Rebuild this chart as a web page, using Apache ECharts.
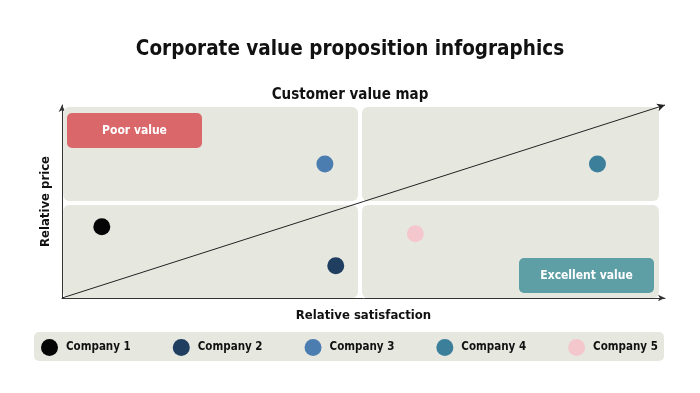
<!DOCTYPE html>
<html>
<head>
<meta charset="utf-8">
<script src="https://cdn.jsdelivr.net/npm/echarts@6/dist/echarts.min.js"></script>
<style>html,body{margin:0;padding:0;background:#fff}#c{width:700px;height:393px}</style>
</head>
<body>
<div id="c"></div>
<script>
const companies = ['Company 1', 'Company 2', 'Company 3', 'Company 4', 'Company 5'];
const satisfaction = [0.66, 4.54, 4.36, 8.88, 5.86];
const price = [3.69, 1.67, 6.94, 6.94, 3.33];
const colors = ['#050505', '#1f3e60', '#4b7db0', '#3c7f9b', '#f4c7cc'];

const FONT = "'DejaVu Sans Condensed', sans-serif";
const PANEL = '#e6e8e0';

// quadrant panels in data units
const panels = [
  [0.02, 5.03, 4.91, 9.90],
  [4.975, 5.03, 9.90, 9.90],
  [0.02, 0.0, 4.91, 4.82],
  [4.975, 0.0, 9.90, 4.82]
];

const chart = echarts.init(document.getElementById('c'), null, {renderer: 'canvas'});

const series = [{
  type: 'custom',
  z: 1,
  silent: true,
  data: panels,
  renderItem: function (params, api) {
    const p1 = api.coord([api.value(0), api.value(3)]);
    const p2 = api.coord([api.value(2), api.value(1)]);
    return {
      type: 'rect',
      shape: {x: p1[0], y: p1[1], width: p2[0] - p1[0], height: p2[1] - p1[1], r: 6},
      style: {fill: PANEL}
    };
  },
  encode: {x: [0, 2], y: [1, 3]}
}];

companies.forEach(function (name, i) {
  const s = {
    name: name,
    type: 'scatter',
    z: 5,
    symbol: 'circle',
    symbolSize: 17,
    itemStyle: {color: colors[i], opacity: 1},
    data: [[satisfaction[i], price[i]]]
  };
  if (i === 0) {
    s.markLine = {
      silent: true,
      symbol: ['none', 'arrow'],
      symbolSize: [6, 8],
      label: {show: false},
      lineStyle: {color: '#222', width: 1, type: 'solid'},
      data: [[{coord: [0, 0]}, {coord: [10, 10]}]],
      z: 4
    };
  }
  series.push(s);
});

chart.setOption({
  animation: false,
  backgroundColor: '#ffffff',
  title: [{
    text: 'Corporate value proposition infographics',
    left: 'center',
    top: 34,
    textStyle: {fontFamily: FONT, fontSize: 20.5, fontWeight: 'bold', color: '#111'}
  }, {
    text: 'Customer value map',
    left: 'center',
    top: 83,
    textStyle: {fontFamily: FONT, fontSize: 15, fontWeight: 'bold', color: '#111'}
  }],
  grid: {left: 62, top: 105, width: 603, height: 193, containLabel: false},
  xAxis: {
    type: 'value', min: 0, max: 10,
    name: 'Relative satisfaction',
    nameLocation: 'middle', nameGap: 11,
    nameTextStyle: {fontFamily: FONT, fontSize: 13, fontWeight: 'bold', color: '#111'},
    axisLine: {show: true, lineStyle: {color: '#333', width: 1}, symbol: ['none', 'arrow'], symbolSize: [5, 7]},
    axisTick: {show: false}, axisLabel: {show: false}, splitLine: {show: false}
  },
  yAxis: {
    type: 'value', min: 0, max: 10,
    name: 'Relative price',
    nameLocation: 'middle', nameGap: 10, nameRotate: 90,
    nameTextStyle: {fontFamily: FONT, fontSize: 13, fontWeight: 'bold', color: '#111'},
    axisLine: {show: true, lineStyle: {color: '#333', width: 1}, symbol: ['none', 'arrow'], symbolSize: [5, 7]},
    axisTick: {show: false}, axisLabel: {show: false}, splitLine: {show: false}
  },
  legend: {
    data: companies,
    left: 41, top: 339,
    padding: 0,
    icon: 'circle',
    itemWidth: 17, itemHeight: 17,
    itemGap: 42,
    selectedMode: false,
    textStyle: {fontFamily: FONT, fontSize: 11.5, fontWeight: 'bold', color: '#111', width: 62, padding: [0, 0, 0, 3]}
  },
  graphic: [{
    type: 'rect', z: -10, left: 34, top: 332,
    shape: {width: 630, height: 29, r: 5},
    style: {fill: PANEL}
  }, {
    type: 'rect', z: 10, x: 67, y: 113,
    shape: {x: 0, y: 0, width: 135, height: 35, r: 5},
    style: {fill: '#da686b'}
  }, {
    type: 'text', z: 11, x: 134.5, y: 130.5,
    style: {text: 'Poor value', fill: '#ffffff', fontFamily: FONT, fontSize: 12, fontWeight: 'bold', align: 'center', verticalAlign: 'middle'}
  }, {
    type: 'rect', z: 10, x: 519, y: 258,
    shape: {x: 0, y: 0, width: 135, height: 35, r: 5},
    style: {fill: '#5e9ea5'}
  }, {
    type: 'text', z: 11, x: 586.5, y: 275.5,
    style: {text: 'Excellent value', fill: '#ffffff', fontFamily: FONT, fontSize: 12, fontWeight: 'bold', align: 'center', verticalAlign: 'middle'}
  }],
  series: series
});
</script>
</body>
</html>
